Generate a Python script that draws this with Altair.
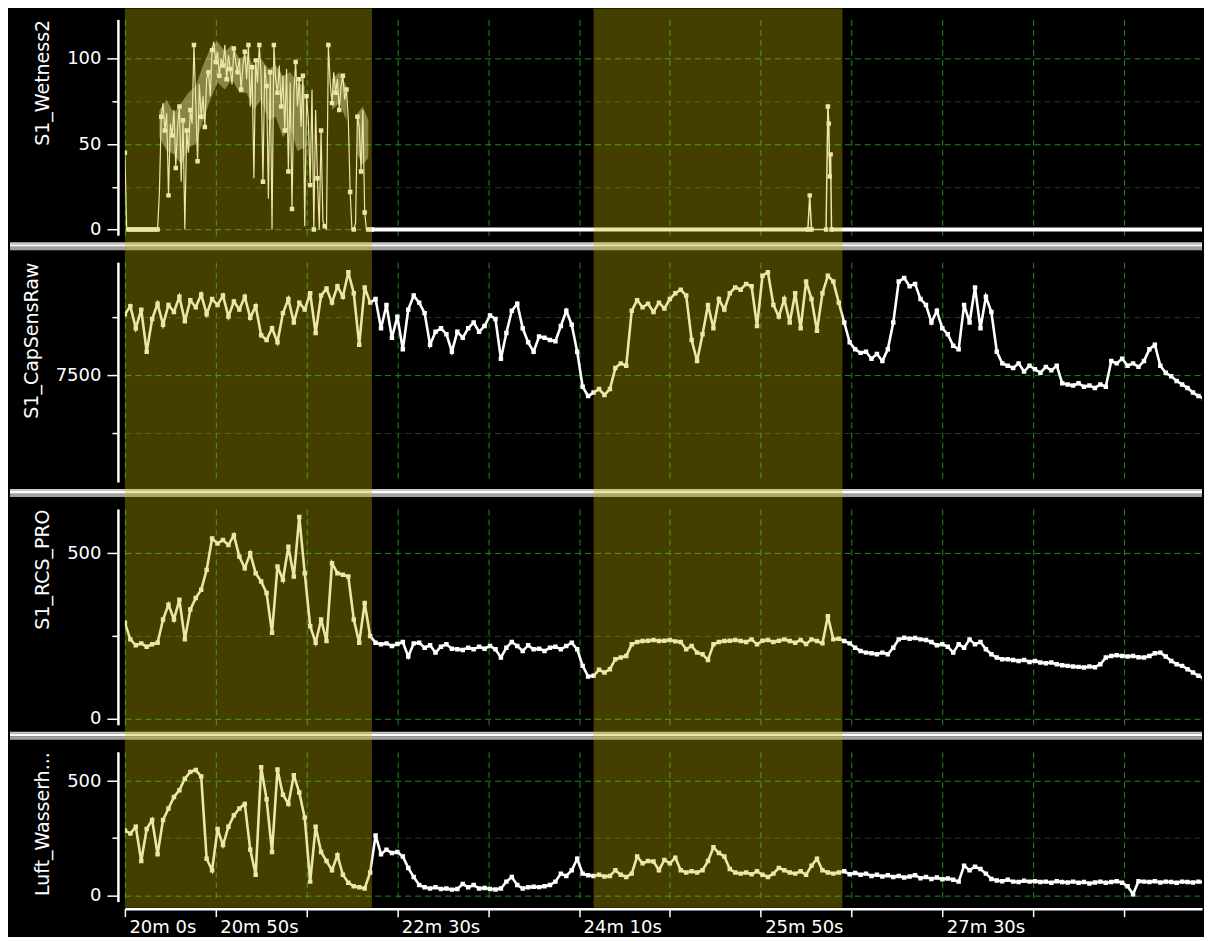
import altair as alt
import pandas as pd

# ---------------- data ----------------
# time axis in seconds (20m 0s = 1200 s)
REGION_START = [1200, 1458]
REGION_END = [1336, 1595]

X_TICKS = [1200, 1250, 1300, 1350, 1400, 1450, 1500, 1550, 1600, 1650, 1700, 1750]
X_LABELED = [1200, 1250, 1350, 1450, 1550, 1650]

# S1_Wetness2 : burst at 1 s resolution, starting at 1200 s
wet_burst = [45, 0,
             0, 0, 0, 0, 0, 0, 0, 0, 0, 0, 0, 0, 0, 0, 0, 0, 0,
             22, 66, 74, 58, 68, 20, 62, 55, 70, 36,
             60, 72, 28, 64, 0, 58, 45, 70, 62, 108,
             75, 40, 85, 66, 78, 60, 88, 92, 78, 105,
             110, 98, 104, 90, 100, 96, 108, 88, 102, 94,
             85, 106, 98, 92, 100, 82, 96, 104, 88, 108,
             72, 95, 30, 99, 86, 108, 90, 28, 96, 84,
             18, 92, 0, 108, 88, 80, 96, 72, 90, 58,
             94, 34, 86, 12, 80, 98, 72, 88, 60, 90,
             2, 78, 64, 26, 82, 0, 70, 30, 0, 58,
             5, 2, 0, 108, 86, 74, 92, 80, 88, 70,
             84, 90, 76, 82, 64, 22, 0, 0, 4, 66,
             60, 34, 70, 10, 0, 0, 0, 0]
# dense min/max envelope of the S1_Wetness2 burst
wet_env_seg = [1, 1, 1, 1, 1, 1, 1, 1, 1, 1, 1, 1, 1, 1, 1, 1, 1, 1, 1, 1, 1,
               2, 2, 2, 3, 3, 3]
wet_env_t = [1219, 1223, 1227, 1231, 1235, 1239, 1243, 1247, 1251, 1255, 1259,
             1263, 1267, 1271, 1275, 1279, 1283, 1287, 1291, 1295, 1299,
             1314, 1318, 1322, 1328, 1331, 1334]
wet_env_lo = [54, 46, 44, 38, 48, 50, 64, 76, 86, 82, 88,
              80, 80, 70, 76, 64, 66, 54, 60, 46, 48,
              70, 74, 64, 44, 38, 42]
wet_env_hi = [70, 76, 68, 74, 80, 84, 96, 106, 110, 104, 108,
              100, 102, 96, 100, 94, 96, 90, 92, 86, 84,
              88, 92, 84, 68, 72, 64]
# later spikes of S1_Wetness2
wet_spike_t = [1576, 1577, 1578, 1586, 1587, 1587.5, 1588, 1588.5, 1589]
wet_spike_v = [0, 20, 0, 0, 72, 62, 31, 44, 0]
# flat zero stretches of S1_Wetness2
wet_zero_start = [1201, 1336, 1589]
wet_zero_end = [1218, 1576, 1795]

# 3 s resolution series, starting at 1200 s
cap_raw = [8020, 8090, 7900, 8060, 7700, 7980, 8110, 7930, 8100, 8040,
           8170, 7960, 8140, 8080, 8190, 8020, 8150, 8100, 8180, 8000,
           8130, 8060, 8170, 7990, 8090, 7840, 7800, 7900, 7780, 8030,
           8150, 7950, 8120, 8060, 8200, 7860, 8180, 8240, 8120, 8260,
           8170, 8380, 8200, 7760, 8250, 8120, 8150, 7900, 8100, 7820,
           8000, 7720, 8060, 8180, 8120, 8030, 7760, 7870, 7900, 7850,
           7700, 7870, 7820, 7900, 7950, 7870, 7920, 8010, 7980, 7640,
           7860, 8050, 8110, 7900, 7780, 7700, 7830, 7820, 7800, 7790,
           7920, 8050, 7930, 7700, 7400, 7320, 7350, 7380, 7330, 7380,
           7560, 7600, 7580, 8050, 8140, 8080, 8110, 8040, 8120, 8070,
           8150, 8200, 8230, 8180, 7800, 7620, 7850, 8100, 7900, 8150,
           8060, 8200, 8250, 8230, 8280, 8260, 7920, 8350, 8380, 8100,
           8000, 8150, 7950, 8200, 7900, 8300, 8150, 7880, 8200, 8350,
           8300, 8120, 7950, 7780, 7720, 7690, 7700, 7640, 7680, 7620,
           7720, 7950, 8300, 8330, 8260, 8280, 8150, 8100, 7950, 8050,
           7900, 7850, 7750, 7720, 8100, 7950, 8250, 7900, 8170, 8040,
           7700, 7600, 7580, 7560, 7600, 7530, 7580, 7550, 7520, 7570,
           7540, 7580, 7430, 7420, 7410, 7430, 7400, 7410, 7390, 7420,
           7400, 7620, 7600, 7640, 7580, 7600, 7570, 7620, 7720, 7760,
           7580, 7520, 7490, 7450, 7420, 7390, 7350, 7320, 7300]

rcs_pro = [290, 240, 222, 228, 218, 225, 230, 300, 345, 300,
           360, 240, 330, 365, 390, 450, 545, 530, 540, 525,
           555, 490, 455, 500, 440, 415, 380, 260, 460, 420,
           520, 430, 610, 440, 280, 230, 300, 235, 470, 440,
           435, 430, 300, 230, 350, 250, 230, 225, 228, 220,
           226, 232, 188, 228, 230, 215, 222, 200, 218, 225,
           212, 210, 208, 215, 210, 218, 212, 220, 210, 185,
           215, 232, 220, 205, 222, 210, 212, 205, 215, 218,
           210, 220, 230, 210, 160, 128, 130, 148, 140, 150,
           180, 185, 190, 225, 232, 235, 236, 238, 235, 236,
           238, 234, 232, 210, 220, 200, 195, 178, 225, 232,
           235, 236, 238, 235, 232, 240, 225, 236, 238, 232,
           236, 240, 235, 230, 238, 226, 240, 235, 228, 310,
           240, 242, 235, 228, 215, 205, 200, 198, 195, 200,
           195, 215, 240, 245, 242, 244, 240, 238, 232, 222,
           225, 218, 200, 225, 215, 240, 225, 232, 210, 195,
           185, 180, 180, 178, 175, 178, 172, 175, 170, 168,
           170, 165, 162, 160, 158, 157, 155, 158, 156, 165,
           185, 190, 192, 190, 188, 190, 186, 185, 190, 198,
           200, 188, 175, 165, 160, 150, 140, 130, 122]

luft = [284, 270, 300, 150, 290, 330, 180, 330, 380, 430,
        460, 510, 540, 548, 520, 160, 110, 290, 220, 300,
        350, 380, 400, 200, 90, 560, 420, 190, 550, 440,
        400, 525, 450, 340, 60, 300, 190, 150, 110, 175,
        90, 55, 40, 35, 30, 100, 262, 180, 200, 185,
        190, 170, 120, 80, 45, 35, 30, 35, 28, 30,
        25, 28, 50, 35, 45, 30, 32, 28, 26, 30,
        60, 80, 45, 30, 35, 38, 36, 40, 45, 60,
        95, 85, 110, 160, 95, 88, 85, 90, 82, 85,
        110, 90, 80, 95, 170, 140, 150, 148, 110, 155,
        140, 165, 110, 100, 105, 100, 110, 150, 210, 185,
        170, 115, 100, 95, 100, 92, 105, 90, 80, 95,
        120, 110, 100, 95, 105, 90, 130, 160, 110, 100,
        95, 100, 105, 92, 98, 90, 95, 85, 90, 82,
        88, 80, 85, 78, 82, 88, 75, 80, 72, 78,
        70, 74, 68, 60, 130, 110, 125, 115, 95, 72,
        65, 62, 68, 60, 58, 64, 60, 62, 58, 60,
        55, 62, 58, 56, 60, 55, 58, 52, 56, 60,
        55, 58, 62, 55, 40, 5, 62, 60, 58, 62,
        56, 60, 58, 55, 60, 58, 56, 60, 57]

# ---------------- tables ----------------
def series(vals, t0, step):
    return pd.DataFrame({"t": [t0 + step * i for i in range(len(vals))], "v": vals})

wet_df = series(wet_burst, 1200, 1)
wet_env_df = pd.DataFrame({"seg": wet_env_seg, "t": wet_env_t, "lo": wet_env_lo, "hi": wet_env_hi})
wet_spike_df = pd.DataFrame({"t": wet_spike_t, "v": wet_spike_v})
wet_zero_df = pd.DataFrame({"s": wet_zero_start, "e": wet_zero_end, "v": [0] * len(wet_zero_start)})
cap_df = series(cap_raw, 1200, 3)
rcs_df = series(rcs_pro, 1200, 3)
luft_df = series(luft, 1200, 3)
band_df = pd.DataFrame({"s": REGION_START, "e": REGION_END})
one_df = pd.DataFrame({"k": [0]})

# ---------------- style ----------------
FONT = "DejaVu Sans"
W = 1078
LEFT = 115          # room left of the plot area (separators start there)
TOP = 11            # black strip above the first panel
GAP = 27            # room between two panels (holds the separator)
XMAX = 1200 + W / 1.818
GRID_MAJ = "#1a8f1a"
GRID_MIN = "#154515"
BAND_COLOR = "#c6ba00"
BAND_OPACITY = 0.34

xscale = alt.Scale(domain=[1200, XMAX], nice=False, zero=False)


def x_axis(bottom):
    if bottom:
        lab = "indexof(%s, datum.value) >= 0 ? floor(datum.value / 60) + 'm ' + (datum.value %% 60) + 's' : ''" % X_LABELED
        return alt.Axis(values=X_TICKS, title=None, grid=True, gridColor=GRID_MAJ,
                        gridDash=[6, 4], gridWidth=1, domain=True, domainColor="white",
                        domainWidth=2.5, ticks=True, tickColor="white", tickSize=8,
                        tickWidth=1.5, labels=True, labelExpr=lab, labelAlign="left",
                        labelBaseline="top", labelPadding=2, labelOffset=4,
                        labelFlush=False, labelOverlap=False, labelColor="white",
                        labelFont=FONT, labelFontSize=18, offset=7)
    return alt.Axis(values=X_TICKS, title=None, grid=True, gridColor=GRID_MAJ,
                    gridDash=[6, 4], gridWidth=1, domain=False, ticks=False, labels=False)


def y_axis(title, ticks, major):
    test = "indexof(%s, datum.value) >= 0" % major
    return alt.Axis(values=ticks, title=title, titleAnchor="end", titleAngle=270,
                    titleAlign="right", titleBaseline="bottom", titlePadding=14,
                    titleFont=FONT, titleFontSize=19, titleFontWeight="normal",
                    titleColor="white", format="d",
                    labelExpr="%s ? datum.label : ''" % test,
                    labelFont=FONT, labelFontSize=18, labelColor="white",
                    labelPadding=6, labelOverlap=False, labelFlush=False,
                    grid=True, gridColor=alt.condition(test, alt.value(GRID_MAJ), alt.value(GRID_MIN)),
                    gridDash=[6, 4], gridWidth=1,
                    tickSize=alt.condition(test, alt.value(11), alt.value(6)),
                    tickColor="white", tickWidth=1.5,
                    domainColor="white", domainWidth=2.5, offset=7)


def panel(lines, title, ydom, yticks, ymajor, h, bottom, band_top, band_bot, sep,
          zero=None, env=None):
    yscale = alt.Scale(domain=ydom, nice=False, zero=False)
    xa = x_axis(bottom)
    ya = y_axis(title, yticks, ymajor)
    X = alt.X("t:Q", scale=xscale, axis=xa)
    Y = alt.Y("v:Q", scale=yscale, axis=ya)
    layers = []
    if sep:
        for off, col, sw in [(8, "#c8c8c8", 2), (10.3, "#ffffff", 2.7), (13.3, "#a0a0a0", 3.3)]:
            layers.append(alt.Chart(one_df).mark_rule(color=col, strokeWidth=sw).encode(
                x=alt.value(-LEFT), x2=alt.value(W), y=alt.value(h + off)))
    if env is not None:
        layers.append(alt.Chart(env).mark_area(color="#ffffff", opacity=0.42, clip=True,
                                               interpolate="linear").encode(
            x=X, y=alt.Y("lo:Q", scale=yscale, axis=ya), y2="hi:Q", detail="seg:N"))
    for df, sw, pts in lines:
        layers.append(alt.Chart(df).mark_line(color="white", strokeWidth=sw, clip=True).encode(x=X, y=Y))
        if pts is not None:
            layers.append(alt.Chart(pts).mark_point(shape="square", filled=True, size=20,
                                                    color="white", opacity=1, clip=True).encode(x=X, y=Y))
    if zero is not None:
        layers.append(alt.Chart(zero).mark_rule(color="white", strokeWidth=4, clip=True).encode(
            x=alt.X("s:Q", scale=xscale, axis=xa), x2="e:Q", y=Y))
    layers.append(alt.Chart(band_df).mark_rect(color=BAND_COLOR, opacity=BAND_OPACITY).encode(
        x=alt.X("s:Q", scale=xscale, axis=xa), x2="e:Q",
        y=alt.value(band_top), y2=alt.value(h + band_bot)))
    return alt.layer(*layers).properties(width=W, height=h)


H1, H2, H3, H4 = 216, 220, 216, 150

p1 = panel([(wet_df, 1.2, wet_df.iloc[::2]), (wet_spike_df, 1.5, wet_spike_df)],
           "S1_Wetness2", [-3.3, 123], [0, 25, 50, 75, 100], [0, 50, 100], H1, False,
           -TOP, GAP, True, zero=wet_zero_df, env=wet_env_df)
p2 = panel([(cap_df, 2.6, cap_df)], "S1_CapSensRaw", [6585, 8466], [7000, 7500, 8000], [7500],
           H2, False, 0, GAP, True)
p3 = panel([(rcs_df, 2.6, rcs_df)], "S1_RCS_PRO", [-18, 634], [0, 250, 500], [0, 500],
           H3, False, 0, GAP, True)
p4 = panel([(luft_df, 2.6, luft_df)], "Luft_Wasserh...", [-27.5, 628], [0, 250, 500], [0, 500],
           H4, True, 0, 6, False)

chart = alt.vconcat(p1, p2, p3, p4, spacing=0).properties(
    padding={"left": 0, "top": 0, "right": 0, "bottom": 0}
).configure(background="black").configure_view(stroke=None)

chart.save("out.html", embed_options={"renderer": "svg", "actions": False})
